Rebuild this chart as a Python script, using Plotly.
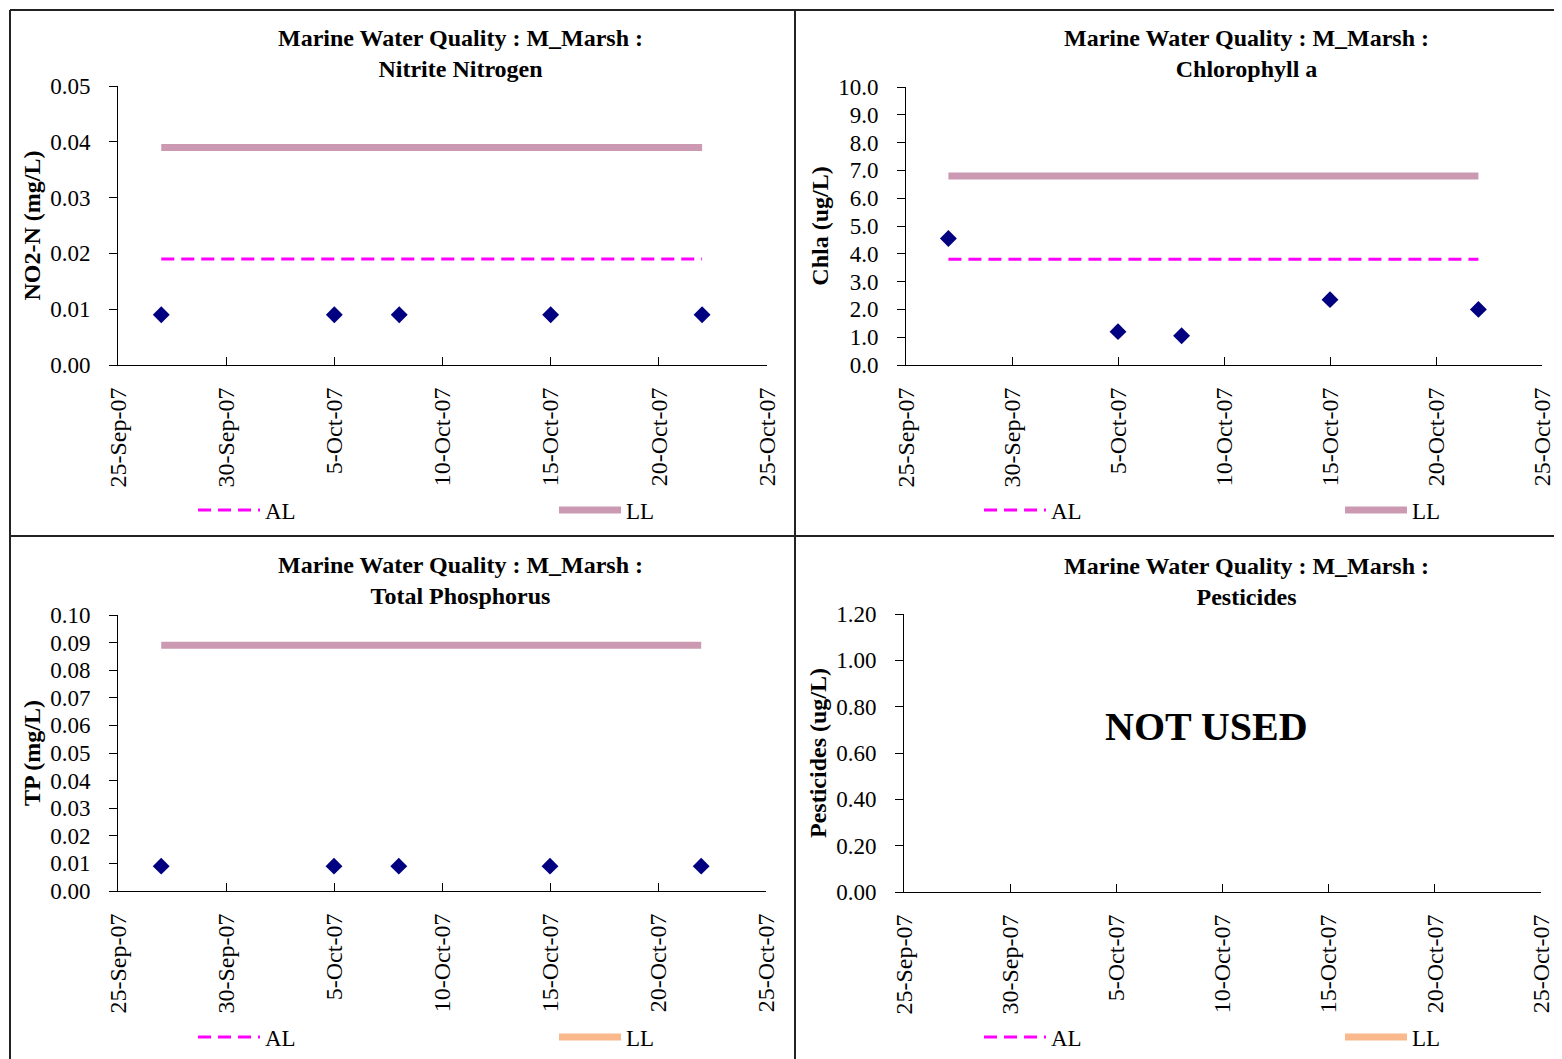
import plotly.graph_objects as go

W, H = 1562, 1059
OFF = 8  # page body margin of the browser
FW, FH = W - OFF, H - OFF  # figure size that fits the window without scrolling

# ---------------- data ----------------
sample_dates = ["2007-09-27", "2007-10-05", "2007-10-08", "2007-10-15", "2007-10-22"]

no2_values = [0.009, 0.009, 0.009, 0.009, 0.009]
no2_al = [0.019, 0.019, 0.019, 0.019, 0.019]
no2_ll = [0.039, 0.039, 0.039, 0.039, 0.039]

chla_values = [4.55, 1.20, 1.05, 2.35, 2.00]
chla_al = [3.8, 3.8, 3.8, 3.8, 3.8]
chla_ll = [6.8, 6.8, 6.8, 6.8, 6.8]

tp_values = [0.009, 0.009, 0.009, 0.009, 0.009]
tp_ll = [0.089, 0.089, 0.089, 0.089, 0.089]

x_range = ["2007-09-25", "2007-10-25"]

titles = [
    "Marine Water Quality : M_Marsh :<br>Nitrite Nitrogen",
    "Marine Water Quality : M_Marsh :<br>Chlorophyll a",
    "Marine Water Quality : M_Marsh :<br>Total Phosphorus",
    "Marine Water Quality : M_Marsh :<br>Pesticides",
]
y_titles = ["NO2-N (mg/L)", "Chla (ug/L)", "TP (mg/L)", "Pesticides (ug/L)"]
y_ranges = [[0, 0.05], [0, 10], [0, 0.10], [0, 1.20]]
y_dticks = [0.01, 1.0, 0.01, 0.2]
y_formats = [".2f", ".1f", ".2f", ".2f"]

# ---------------- styles ----------------
FONT = "Liberation Serif, Times New Roman, serif"
NAVY = "#000080"
MAGENTA = "#FF00FF"
PINK = "#CC99B3"
ORANGE = "#F9B98C"


def px_x(p):
    return (p - OFF) / FW


def px_y(p):
    return 1 - (p - OFF) / FH


# plot-area pixel boxes (left, right, top, bottom)
boxes = [
    (118, 767, 86, 365),
    (906, 1542, 87, 365),
    (118, 766, 615, 891),
    (904, 1541, 614, 892),
]
title_pos = [(460, 53), (1246, 53), (460, 580), (1246, 581)]
legend_pos = [(193, 510), (979, 510), (193, 1037), (979, 1037)]

fig = go.Figure()

axes = [("x", "y"), ("x2", "y2"), ("x3", "y3"), ("x4", "y4")]
legends = ["legend", "legend2", "legend3", "legend4"]

al_style = dict(color=MAGENTA, width=3, dash="13px,7px")
AL_W = 284  # spacing of the AL entry
LL_W = 30

# Panel 1 - NO2
fig.add_trace(go.Scatter(x=sample_dates, y=no2_values, mode="markers",
                         marker=dict(symbol="diamond", size=13, color=NAVY),
                         showlegend=False, xaxis="x", yaxis="y"))
fig.add_trace(go.Scatter(x=sample_dates, y=no2_al, mode="lines", name="AL",
                         line=al_style, legend="legend", legendwidth=AL_W,
                         xaxis="x", yaxis="y"))
fig.add_trace(go.Scatter(x=sample_dates, y=no2_ll, mode="lines", name="LL",
                         line=dict(color=PINK, width=7), legend="legend",
                         legendwidth=LL_W, xaxis="x", yaxis="y"))

# Panel 2 - Chla
fig.add_trace(go.Scatter(x=sample_dates, y=chla_values, mode="markers",
                         marker=dict(symbol="diamond", size=13, color=NAVY),
                         showlegend=False, xaxis="x2", yaxis="y2"))
fig.add_trace(go.Scatter(x=sample_dates, y=chla_al, mode="lines", name="AL",
                         line=al_style, legend="legend2", legendwidth=AL_W,
                         xaxis="x2", yaxis="y2"))
fig.add_trace(go.Scatter(x=sample_dates, y=chla_ll, mode="lines", name="LL",
                         line=dict(color=PINK, width=7), legend="legend2",
                         legendwidth=LL_W, xaxis="x2", yaxis="y2"))

# Panel 3 - TP
fig.add_trace(go.Scatter(x=sample_dates, y=tp_values, mode="markers",
                         marker=dict(symbol="diamond", size=13, color=NAVY),
                         showlegend=False, xaxis="x3", yaxis="y3"))
fig.add_trace(go.Scatter(x=sample_dates, y=tp_ll, mode="lines",
                         line=dict(color=PINK, width=7), showlegend=False,
                         xaxis="x3", yaxis="y3"))
fig.add_trace(go.Scatter(x=[None], y=[None], mode="lines", name="AL",
                         line=al_style, legend="legend3", legendwidth=AL_W,
                         xaxis="x3", yaxis="y3"))
fig.add_trace(go.Scatter(x=[None], y=[None], mode="lines", name="LL",
                         line=dict(color=ORANGE, width=7), legend="legend3",
                         legendwidth=LL_W, xaxis="x3", yaxis="y3"))

# Panel 4 - Pesticides (not used)
fig.add_trace(go.Scatter(x=[None], y=[None], mode="lines", name="AL",
                         line=al_style, legend="legend4", legendwidth=AL_W,
                         xaxis="x4", yaxis="y4"))
fig.add_trace(go.Scatter(x=[None], y=[None], mode="lines", name="LL",
                         line=dict(color=ORANGE, width=7), legend="legend4",
                         legendwidth=LL_W, xaxis="x4", yaxis="y4"))

layout = dict(
    width=FW, height=FH,
    margin=dict(l=0, r=0, t=0, b=0, autoexpand=False),
    paper_bgcolor="white", plot_bgcolor="white",
    font=dict(family=FONT, size=23, color="black"),
)

for i, ((xa, ya), box) in enumerate(zip(axes, boxes)):
    l, r, t, b = box
    xk = "xaxis" if i == 0 else f"xaxis{i+1}"
    yk = "yaxis" if i == 0 else f"yaxis{i+1}"
    layout[xk] = dict(
        domain=[px_x(l), min(px_x(r), 1)], anchor=ya, type="date", range=x_range,
        tick0="2007-09-25", dtick=5 * 86400000, tickformat="%-d-%b-%y",
        tickangle=-90, ticks="inside", ticklen=8, tickcolor="black",
        showline=True, linecolor="black", linewidth=1, showgrid=False,
        zeroline=False, ticklabelstandoff=12, automargin=False,
        ticklabeloverflow="allow",
        tickfont=dict(family=FONT, size=24),
    )
    layout[yk] = dict(
        domain=[px_y(b), px_y(t)], anchor=xa, range=y_ranges[i],
        dtick=y_dticks[i], tick0=0, tickformat=y_formats[i],
        ticks="outside", ticklen=8, tickcolor="black",
        showline=True, linecolor="black", linewidth=1, showgrid=False,
        zeroline=False, ticklabelstandoff=14, automargin=False,
        tickfont=dict(family=FONT, size=23),
        title=dict(text="<b>" + y_titles[i] + "</b>", standoff=2,
                   font=dict(family=FONT, size=24)),
    )
    lg = legends[i]
    lx, ly = legend_pos[i]
    layout[lg] = dict(
        x=px_x(lx), y=px_y(ly), xanchor="left", yanchor="middle",
        orientation="h", itemwidth=62,
        bgcolor="rgba(0,0,0,0)", font=dict(family=FONT, size=23),
        tracegroupgap=0, itemclick=False,
    )

annotations = []
for (tx, ty), ttl in zip(title_pos, titles):
    annotations.append(dict(
        x=px_x(tx), y=px_y(ty), xref="paper", yref="paper",
        text="<b>" + ttl + "</b>", showarrow=False,
        xanchor="center", yanchor="middle",
        font=dict(family=FONT, size=24, color="black"),
    ))
annotations.append(dict(
    x=px_x(1206), y=px_y(726), xref="paper", yref="paper",
    text="<b>NOT USED</b>", showarrow=False, xanchor="center", yanchor="middle",
    font=dict(family=FONT, size=40, color="black"),
))
layout["annotations"] = annotations

border = dict(color="#222222", width=2)
shapes = [
    dict(type="line", xref="paper", yref="paper", x0=px_x(10), x1=1, y0=px_y(10), y1=px_y(10), line=border),
    dict(type="line", xref="paper", yref="paper", x0=px_x(10), x1=px_x(10), y0=px_y(10), y1=0, line=border),
    dict(type="line", xref="paper", yref="paper", x0=px_x(795), x1=px_x(795), y0=px_y(10), y1=0, line=border),
    dict(type="line", xref="paper", yref="paper", x0=px_x(10), x1=1, y0=px_y(536), y1=px_y(536), line=border),
]
layout["shapes"] = shapes

fig.update_layout(**layout)
fig.write_html("out.html")
